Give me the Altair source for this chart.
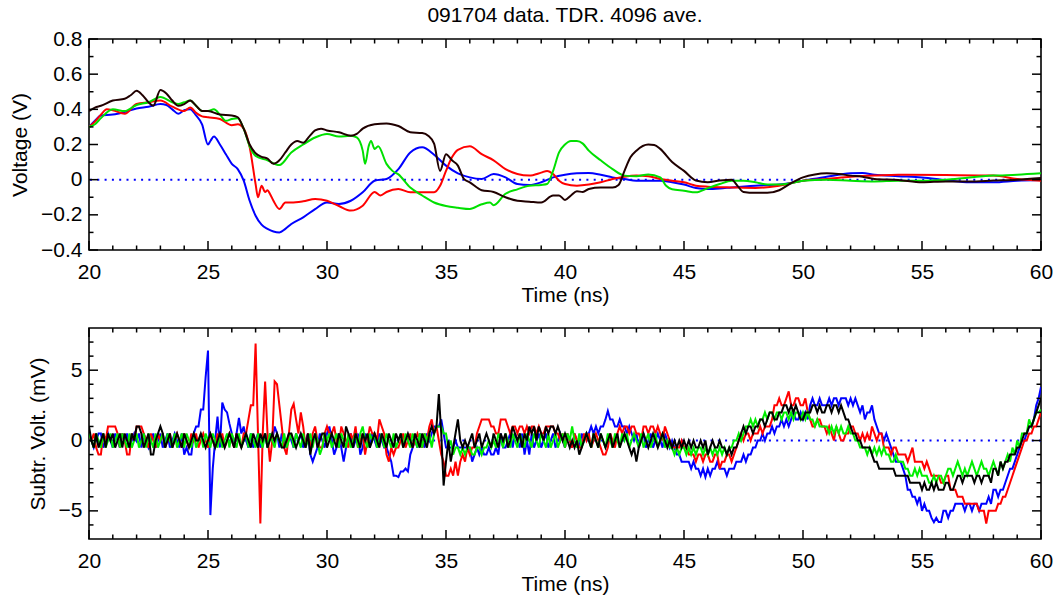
import altair as alt
import pandas as pd

FONT = "Liberation Sans"
FS = 21
W, H = 952, 211
TITLE = "091704 data. TDR. 4096 ave."

# ---------------- top panel: Voltage (V) ----------------
top_blue_t = [20, 20.25, 20.5, 21, 21.5, 22, 22.5, 23, 23.25, 23.5, 23.75, 24, 24.25, 24.5, 24.75, 25, 25.1, 25.25, 25.5, 25.75,
              26, 26.25, 26.5, 26.75, 27, 27.25, 27.5, 27.75, 28, 28.25, 28.5, 29, 29.5, 30, 30.5, 31, 31.5, 32, 32.5, 33,
              33.5, 34, 34.5, 35, 35.5, 36, 36.5, 37, 37.5, 38, 38.5, 39, 39.5, 40, 40.5, 41, 41.5, 42, 42.5, 43,
              44, 44.5, 45, 45.5, 46, 46.5, 47, 48, 49, 50, 51, 52, 52.5, 53, 54, 55, 56, 57, 58, 59, 60]
top_blue_v = [0.30, 0.335, 0.365, 0.37, 0.385, 0.405, 0.415, 0.43, 0.425, 0.40, 0.375, 0.395, 0.40, 0.365, 0.315, 0.20, 0.22, 0.245, 0.20, 0.145,
              0.09, 0.06, -0.006, -0.12, -0.205, -0.256, -0.28, -0.295, -0.30, -0.28, -0.252, -0.214, -0.167, -0.13, -0.138, -0.12, -0.072, -0.006, 0.004, 0.06,
              0.155, 0.184, 0.142, 0.08, 0.036, 0.013, 0.004, 0.032, 0.013, -0.025, -0.03, -0.015, 0.013, 0.028, 0.036, 0.038, 0.028, 0.013, 0.004, -0.006,
              -0.006, -0.015, -0.028, -0.047, -0.053, -0.05, -0.044, -0.034, -0.028, -0.006, 0.017, 0.036, 0.038, 0.028, 0.02, 0.013, -0.002, -0.015, -0.015, -0.006, -0.002]

top_red_t = [20, 20.25, 20.5, 20.75, 21, 21.5, 22, 22.5, 23, 23.5, 24, 24.25, 24.5, 24.75, 25, 25.5, 26, 26.25, 26.5, 26.75,
             27, 27.1, 27.25, 27.4, 27.5, 27.6, 27.75, 28, 28.25, 28.5, 29, 29.5, 30, 30.5, 31, 31.5, 32, 32.25, 32.5, 33,
             33.5, 34, 34.5, 34.75, 35, 35.25, 35.5, 36, 36.5, 37, 37.5, 38, 38.5, 39, 39.25, 39.5, 39.75, 40, 40.5, 41,
             41.5, 42, 42.5, 43, 43.5, 44, 44.5, 45, 45.5, 46, 47, 48, 49, 50, 51, 52, 53, 54, 56, 58, 59, 60]
top_red_v = [0.30, 0.33, 0.37, 0.40, 0.395, 0.375, 0.43, 0.44, 0.45, 0.415, 0.39, 0.41, 0.38, 0.36, 0.355, 0.345, 0.31, 0.315, 0.29, 0.185,
             -0.025, -0.10, -0.035, -0.07, -0.06, -0.08, -0.12, -0.167, -0.13, -0.13, -0.123, -0.11, -0.12, -0.15, -0.176, -0.148, -0.07, -0.09, -0.07, -0.053,
             -0.072, -0.072, -0.072, -0.035, 0.05, 0.127, 0.17, 0.19, 0.145, 0.11, 0.06, 0.032, 0.023, 0.04, 0.05, 0.032, -0.006, -0.025, -0.034, -0.028,
             -0.015, 0.004, 0.017, 0.023, 0.02, 0.004, -0.006, -0.015, -0.034, -0.04, -0.044, -0.047, -0.034, -0.006, 0.004, 0.017, 0.023, 0.028, 0.026, 0.023, 0.004, -0.006]

top_green_t = [20, 20.25, 20.5, 21, 21.5, 22, 22.5, 23, 23.5, 23.75, 24, 24.25, 24.5, 24.75, 25, 25.25, 25.5, 25.75, 26, 26.25,
               26.5, 26.75, 27, 27.5, 28, 28.5, 29, 29.5, 30, 30.5, 31, 31.25, 31.5, 31.6, 31.75, 31.85, 32, 32.15, 32.5, 32.75,
               33, 33.5, 34, 34.5, 35, 35.5, 36, 36.5, 36.85, 37, 37.5, 38, 38.5, 39, 39.25, 39.5, 39.75, 40, 40.25, 40.5,
               40.75, 41, 41.5, 42, 42.5, 43, 43.5, 44, 44.25, 44.5, 45, 45.5, 46, 46.5, 47, 47.5, 48, 48.5, 49, 49.5,
               50, 51, 52, 53, 54, 55, 56, 57, 58, 59, 60]
top_green_v = [0.30, 0.315, 0.35, 0.40, 0.39, 0.425, 0.44, 0.47, 0.44, 0.43, 0.44, 0.45, 0.42, 0.39, 0.39, 0.40, 0.37, 0.335, 0.345, 0.35,
               0.29, 0.19, 0.135, 0.11, 0.083, 0.155, 0.20, 0.24, 0.26, 0.245, 0.25, 0.24, 0.165, 0.09, 0.19, 0.22, 0.175, 0.19, 0.09, 0.05,
               0.03, -0.045, -0.09, -0.13, -0.15, -0.16, -0.167, -0.14, -0.13, -0.145, -0.08, -0.055, -0.035, -0.03, -0.025, 0.05, 0.155, 0.20, 0.22, 0.22,
               0.205, 0.165, 0.11, 0.06, 0.023, 0.02, 0.03, 0.013, -0.035, -0.055, -0.063, -0.072, -0.048, -0.025, -0.006, -0.006, -0.015, -0.028, -0.028, -0.02,
               -0.006, 0.0, -0.006, -0.01, -0.006, -0.006, 0.0, 0.013, 0.023, 0.028, 0.036]

top_black_t = [20, 20.25, 20.5, 21, 21.5, 21.75, 22, 22.25, 22.5, 22.7, 23, 23.25, 23.5, 23.75, 24, 24.25, 24.5, 24.75, 25, 25.5,
               26, 26.25, 26.5, 26.75, 27, 27.25, 27.5, 27.75, 28, 28.25, 28.5, 28.75, 29, 29.25, 29.5, 29.75, 30, 30.5, 31, 31.25,
               31.5, 32, 32.5, 33, 33.5, 34, 34.25, 34.5, 34.75, 35, 35.25, 35.5, 35.75, 36, 36.5, 37, 37.5, 38, 38.5, 39,
               39.5, 39.75, 40, 40.25, 40.5, 40.75, 41, 41.5, 42, 42.25, 42.5, 42.75, 43, 43.5, 43.75, 44, 44.5, 45, 45.5, 46,
               46.5, 47, 47.25, 47.5, 48, 48.5, 49, 49.5, 50, 50.5, 51, 51.5, 52, 52.5, 53, 54, 55, 56, 57, 58, 59, 60]
top_black_v = [0.39, 0.41, 0.42, 0.45, 0.46, 0.48, 0.505, 0.48, 0.44, 0.42, 0.51, 0.49, 0.45, 0.42, 0.43, 0.45, 0.42, 0.39, 0.39, 0.37,
               0.365, 0.355, 0.29, 0.20, 0.15, 0.13, 0.12, 0.09, 0.11, 0.155, 0.20, 0.22, 0.21, 0.245, 0.28, 0.29, 0.28, 0.27, 0.25, 0.26,
               0.29, 0.315, 0.32, 0.305, 0.27, 0.265, 0.25, 0.205, 0.05, 0.145, 0.11, 0.08, 0.005, -0.015, -0.06, -0.07, -0.10, -0.12, -0.125, -0.13,
               -0.09, -0.09, -0.115, -0.09, -0.066, -0.07, -0.053, -0.045, -0.045, -0.03, 0.05, 0.127, 0.165, 0.20, 0.197, 0.175, 0.10, 0.05, -0.005, -0.015,
               -0.005, 0.0, -0.035, -0.07, -0.075, -0.075, -0.06, -0.02, 0.013, 0.03, 0.036, 0.032, 0.023, 0.017, 0.004, -0.002, -0.015, -0.01, -0.01, -0.005, 0.0, 0.01]

# ---------------- bottom panel: Subtr. Volt. (mV), sampled every 0.1 ns from 20 to 60 ----------------
bot_t = [round(20 + 0.1 * i, 1) for i in range(401)]

bot_blue = [
    0.5, 0, -0.5, 0, 0.5, 0.5, -0.5, 0, 0.5, 0,
    -0.5, 0.5, 0, -0.5, 0.5, 0, 0.5, -0.5, 0, 0.5,
    0, 0.5, -0.5, 0.5, 0, -0.5, 0, 0.5, -0.5, 0,
    0.5, -0.5, 0, 0.5, -0.5, 0, 0.5, 0, -0.5, 0.5,
    -1, -0.5, -1, -1, 0.5, 1, 1, 2.2, 2.2, 4.5,
    6.4, -5.3, -2, 0, 1.7, -0.5, 2.7, 2.2, 2, 1.2,
    0.5, -0.5, 0.5, 1.6, 0.5, 1, 0, -0.5, 0.5, -0.5,
    0, 0.5, -0.5, 0, 0.5, -0.5, 0.5, 0, 1, 0.5,
    -0.5, 0.5, 0, -0.5, 0.5, 0, -0.5, 0.5, 0, 0.5,
    -0.5, 0, 0.5, -1, -1.5, -1, -0.5, 0.5, 0, -0.5,
    0.5, 1, 0, -1, -0.5, 0.5, -0.5, -1.5, -0.5, 0,
    0.5, -0.5, 0, 0.5, -1, -0.5, 0.5, 0, -0.5, 0.5,
    0, -0.5, 0.5, 0, -0.5, -0.5, -1, -1.5, -2.5, -2.5,
    -2.6, -2.2, -2.2, -2, -2.2, -1, -0.5, 0, -0.5, 0.5,
    0, -0.5, 0.5, 0, 0.5, 1, 1, 1, 1.5, 0.5,
    -0.5, -0.5, -0.5, -0.5, 0, -0.5, -0.5, -0.5, -0.5, -0.5,
    -0.5, -1.5, -1, -0.5, -1, -0.5, -1, -1, -0.5, -1,
    -1, -0.5, -1, 0.5, -0.5, -0.5, 0, 0.5, -0.5, 0.5,
    0, -0.5, 0.5, -1, 0, -1, 0.5, -0.5, 0, 0.5,
    -0.5, 0, 0.5, -0.5, 0, 0.5, -0.5, 0, 0.5, 0,
    -0.5, 0.5, 0, -0.5, 0.5, 0, -0.5, 0.5, 0, 0.5,
    0.5, 1, 0.5, 1, 0.5, 1, 1, 1.5, 2.1, 1.5,
    1.5, 1, 1, 1.5, 1, 1, 0.5, 1, 0.5, 0,
    0.5, -0.5, 0, 0.5, -0.5, 0, 0.5, -0.5, 0, 0.5,
    0, -0.5, 0.5, 0, -0.5, 0, -0.5, -1, -1, -1.5,
    -1.5, -1.5, -1.5, -2, -1.5, -2, -2, -2.5, -2, -2.6,
    -2, -2.5, -2, -2, -1.5, -2, -2, -2, -2.5, -2,
    -2, -2, -1.5, -1.5, -1.5, -1, -1.5, -1, -1, -0.5,
    -0.5, 0, 0, 0.5, 0, 0.5, 0.5, 1, 0.5, 1,
    1, 1.5, 1, 1.5, 1, 1.5, 2, 1.5, 1.5, 2,
    1.5, 2, 1.5, 2.5, 3, 2.5, 2.5, 3, 2.5, 2.5,
    2.5, 3, 2.5, 3, 3, 2.5, 3, 3, 3, 2.5,
    3, 2.5, 3, 2.5, 2, 2.5, 1.5, 2, 2, 2.5,
    1.5, 1, 0.5, 0.5, 0, 0.5, 0, -0.5, -1, -1.5,
    -1.5, -1.5, -2, -2.5, -3.5, -3.5, -4, -4, -4.5, -4,
    -5, -4.5, -5, -5, -5.5, -5.8, -5.5, -5.8, -5.8, -5,
    -5, -5.5, -5, -5, -4.5, -4.5, -4.5, -4.5, -5, -4.5,
    -4.5, -5, -4.5, -4.5, -5, -4.5, -4.5, -4.5, -4, -4.5,
    -3.5, -3.5, -4, -3.5, -3.5, -3, -2.5, -2, -2, -1.5,
    -1, -0.5, 0, 0, 0.5, 1, 1, 1.5, 2.5, 3,
    3.8]

bot_red = [
    0.5, 0, 0.5, -0.5, -1, -1, 0.5, 0, 1, 1,
    1, 1, 0.5, -0.5, 0.5, 0, -1, -1, 0.5, 0,
    1, 1, 1, 0.5, 0, -0.5, 0.5, 0, -0.5, 0.5,
    0, 0.5, -0.5, 0, 0.5, -0.5, 0, 0.5, 0, -0.5,
    0.5, 0, -0.5, 0.5, 0, 0.5, -0.5, 0, 0.5, 0,
    -0.5, 0.5, 0, -0.5, 0.5, 0, 0.5, -0.5, 0, 0.5,
    0, -0.5, 0.5, 0, -0.5, 0.5, 0.5, 1.5, 2.5, 2.5,
    6.9, 0.5, -5.9, 0.5, 4.2, 0.5, -1.5, 0, 4.2, 4,
    2.5, 1, -0.5, -1, 0.5, 2.2, 2.6, 1.5, 0.5, 2,
    1, -0.5, 0.5, -0.5, 0.5, 1, 0, -0.5, -0.5, 0.5,
    1, 0.5, 0.5, 1, 0, -0.5, 1, 0.5, 0, -0.5,
    0.5, 0, 1, -0.5, 0, 0.5, -1, 0, 1, 0.5,
    0.5, 0, 1.5, 1, 0.5, -1, -1.5, -0.5, -1, -0.5,
    -0.5, 0, 0.5, -0.5, 0, 0.5, -0.5, 0, 0.5, 0,
    -0.5, 0.5, 0, 1, 1.5, 0.5, 1, 0, -1, -1.5,
    -2.5, -2.5, -2, -2.5, -1.5, -2.5, -1.5, -1, -1.5, -0.5,
    -1, -0.5, -0.5, 0.5, 1, 1.5, 1.5, 1.5, 1.5, 1,
    1, 0.5, 0.5, 1.5, 1.5, 1.5, 1, 0.5, 1, 1,
    0.5, 1, 1, 0.5, 1, 0.5, 1, 1, 0.5, 1,
    0.5, 0.5, 1, 1, 1, 1, 0.5, 0.5, 0, 0.5,
    -0.5, 0.5, 0, -0.5, 0.5, 0, -0.5, -0.5, 0.5, 0,
    0.5, -0.5, 0, 0.5, 0, -0.5, -1, -1, -0.5, 0.5,
    0, -0.5, 0.5, 1, 0.5, 1, 1, 0.5, 1, 1,
    0.5, 0.5, 0, 1, 1, 0.5, 1, 1, 0.5, 1,
    0.5, 0, 1, 0.5, 0, -0.5, -0.5, -0.5, -0.5, 0,
    -0.5, -0.5, -1, -1, -1, -1.5, -1, -1, -1.5, -1,
    -1, -1.5, -1.5, -1, -1, -2, -1.5, -1.5, -1, -1,
    -1.5, -1, -0.5, 0, 0.5, 0, 0.5, 0.5, 0, 0.5,
    0.5, 0.5, 1, 0.5, 1, 1, 1, 1.5, 2.5, 2.5,
    3, 2.5, 2.5, 3, 3.5, 2.5, 2.5, 3, 3, 2.5,
    2.5, 3, 2, 1.5, 1, 1, 1.5, 1.5, 1, 1,
    0.5, 1, 0.5, 0, 1, 0.5, 0, 0, 0.5, 0.5,
    1, 1, 0.5, 0.5, 0, 0.5, 0, 0.5, 0, 1,
    0.5, 0, 0.5, 0.5, -0.5, -0.5, -0.5, -1, -0.5, -0.5,
    -1, -1, -1, -1, -1.5, -1, -0.5, -1.5, -1.5, -1.5,
    -1.5, -2, -1.5, -2, -2.5, -2.5, -2.5, -2.5, -3, -3,
    -2.5, -2.5, -3.5, -3.5, -3.5, -4, -4, -4, -4.5, -4.5,
    -4.5, -4.5, -4.5, -4.5, -5, -5, -5, -5.9, -5, -5,
    -5, -5, -4.5, -4.5, -4, -4, -3.5, -3, -2.5, -2,
    -1.5, -1, -0.5, 0, 0, 0.5, 0.5, 1, 1, 1.5,
    2]

bot_green = [
    0.5, 0, -0.5, 0.5, 0, -0.5, 0.5, -0.5, 0, 0.5,
    -0.5, 0, 0.5, -0.5, 0.5, 0, -0.5, 0.5, -0.5, 0,
    0.5, -0.5, 0, 0.5, -0.5, 0.5, 0, -0.5, 0.5, -0.5,
    0, 0.5, -0.5, 0.5, 0, -0.5, 0.5, -0.5, 0, 0.5,
    -0.5, 0.5, 0, -0.5, 0.5, -0.5, 0, 0.5, -0.5, 0.5,
    0, -0.5, 0.5, 0, -0.5, 0.5, -0.5, 0, 0.5, -0.5,
    0.5, 0, -0.5, 0.5, -0.5, 0, 0.5, -0.5, 0.5, 0,
    -0.5, 0.5, 0, -0.5, 0.5, -0.5, 0.5, 0, -0.5, 0.5,
    0, -0.5, 0.5, -0.5, 0, 0.5, -0.5, 0.5, 0, -0.5,
    0.5, -0.5, 0, 0.5, -0.5, 0.5, 0, -1, -0.5, 0.5,
    0, 0.5, -0.5, 0, 0.5, -0.5, 0.5, 0, -0.5, 0.5,
    -0.5, 0, 0.5, -0.5, 0.5, 1, 0, -0.5, 0.5, 0,
    0.5, -0.5, 0, 0.5, -0.5, 0.5, 0, -0.5, 0.5, -0.5,
    0, 0.5, -0.5, 0.5, 0, -0.5, 0.5, 0, -0.5, 0.5,
    -0.5, 0.5, 0, 0.5, -0.5, 0.5, 1, 1, 1, 0.5,
    0.5, -0.5, 0, -1, -0.5, -0.5, -1, -0.5, -1, -0.5,
    -0.5, -1, -1, -0.5, -0.5, -1, -0.5, -0.5, 0, -0.5,
    0, -0.5, 0.5, 0, -0.5, 0.5, 0, -0.5, 0.5, 0,
    -0.5, 0.5, 0, -0.5, 0.5, 0, -0.5, 0.5, 0, -0.5,
    0.5, 0, -0.5, 0.5, -0.5, 0, 0.5, -0.5, 0, 0.5,
    -0.5, 0.5, 0, 1, 0, -0.5, 0.5, -0.5, 0, 0.5,
    0, -0.5, 0.5, 0, -0.5, 0.5, 0, -0.5, 0.5, 0,
    -0.5, 0.5, 0, -0.5, 0.5, 0, 0.5, -0.5, 0, 0.5,
    0, -0.5, 0.5, -0.5, 0, 0.5, -0.5, 0, 0.5, -0.5,
    0, 0.5, -0.5, 0, -0.5, -0.5, -1, -0.5, -1, -0.5,
    -0.5, -1, -0.5, -1, -0.5, -1, -0.5, -0.5, -1, -0.5,
    -1, -0.5, -1, -0.5, -1, -0.5, -1, -0.5, -1, -0.5,
    -0.5, 0, 0, 0.5, 0, 0.5, 1, 1, 1.5, 1,
    1.5, 1, 1.5, 1.5, 2, 1.5, 2, 2, 1.5, 2,
    2, 1.5, 2, 2, 1.5, 2, 1.5, 2, 2, 1.5,
    2, 1.5, 2, 1.5, 1.5, 1, 1.5, 1, 1, 1,
    1, 0.5, 1, 0.5, 1, 0.5, 1, 0.5, 0.5, 1,
    0.5, 0.5, 0, 0, -0.5, -0.5, -0.5, -1, -0.5, -1,
    -0.5, -1, -0.5, -1, -0.5, -1, -1, -1.5, -1.5, -1,
    -1.5, -1.5, -1.5, -2, -2, -2.5, -2.5, -2, -2.5, -2,
    -2.5, -2.5, -2.5, -3, -3, -2.5, -3, -2.5, -2.5, -3,
    -2.5, -2, -2, -2.5, -2, -1.5, -2, -2.5, -2, -2.5,
    -2, -1.5, -2, -2.5, -2, -1.5, -2, -2, -2.5, -2,
    -1.5, -2, -2.5, -1.5, -2, -1.5, -1, -1.5, -0.5, -1,
    0, -0.5, 0.5, 0.5, 0.5, 1.5, 1, 1.5, 2, 2,
    2.2]

bot_black = [
    1, 0, -0.5, 0.5, -0.5, 0, 0.5, -0.5, 0.5, 0,
    0.5, -0.5, 0, 0.5, -0.5, 0.5, 0, -0.5, 0.5, 0,
    1, 1, 0.5, -0.5, 0, 0.5, -1, -1, 0, 0.5,
    1, 0.5, -0.5, 0, 0.5, -0.5, 0, 0.5, 0, -0.5,
    0.5, 0, -0.5, 0, 0.5, 0, 0, 0.5, 0, -0.5,
    0, 0.5, 0, -0.5, 0, 0.5, 0, -0.5, 0, 0.5,
    0, -0.5, 0.5, 0, -0.5, 0, 0.5, 0, -0.5, 0.5,
    0, -0.5, 0.5, 0, 0.5, -0.5, 0, 0.5, 0, 0.5,
    0, -0.5, -0.5, 0, 0.5, 0.5, 0, -0.5, 0, 0.5,
    0, -0.5, 0.5, -1, 0, 0.5, -0.5, 0, 0.5, 0.5,
    -0.5, 0, 0.5, 0, -0.5, 0.5, 0, -0.5, 1, 0.5,
    0, -0.5, 0.5, 0, -0.5, 0.5, 0, 0.5, -0.5, 0,
    0.5, 0, -0.5, 0.5, 0, -0.5, 0.5, 0, -0.5, 0.5,
    0, 0.5, -0.5, 0, 0.5, 0, -0.5, 0.5, 0, -0.5,
    0.5, 0, -0.5, 0.5, 1, 0.5, 1, 3.3, 0.5, -3.2,
    -1.5, 0, -1.5, -0.5, 0.5, 1.5, 0, -0.5, 0, -0.5,
    0, 0.5, -0.5, 0, 0.5, -0.5, 0, 0.5, 0, -0.5,
    0.5, 0, -0.5, 0.5, 0, 0.5, -0.5, 0, 1, 0.5,
    0, 0.5, -0.5, 0.5, 0, 1, 0.5, 1, 0, 1,
    0.5, 0, 1, 0.5, 1, 1, 0.5, 1, 0.5, 0,
    0.5, 0, -0.5, 0, -0.5, 0, -1, -0.5, 0, 0.5,
    0, -0.5, 0.5, 0, -0.5, 0.5, 0, -0.5, 0, 0.5,
    -0.5, 0, 0.5, -0.5, 0, 0.5, 0, -0.5, -1, -0.5,
    -1.5, -0.5, 0, 0.5, 0, -0.5, 0, 0.5, 0, -0.5,
    0, 0.5, 0, -0.5, 0, -0.5, 0, -0.5, 0, -0.5,
    0, -0.5, 0, -0.5, 0, -0.5, -0.5, 0, -0.5, 0,
    -1, -0.5, 0, -0.5, -0.5, 0, -0.5, -0.5, -1, -0.5,
    -1, -0.5, -0.5, 0, 0.5, 1, 0.5, 1, 1, 0.5,
    1, 1, 1.5, 1.5, 1, 1.5, 2, 2, 1.5, 1.5,
    2, 2, 2.5, 2.5, 2, 2.5, 2, 2.5, 2, 1.5,
    1.5, 2, 2, 2, 2.5, 2.5, 2, 2.5, 2, 2,
    2.5, 2.5, 2, 2.5, 2.5, 2, 2.5, 2, 1.5, 1.5,
    1, 0.5, 0.5, 0, 0, -0.5, -0.5, -0.5, -0.5, -1,
    -1.5, -1.5, -2, -2, -2, -2, -2, -2, -2, -2.5,
    -2.5, -2.5, -2.5, -2.5, -2.5, -3, -3, -3, -3, -3,
    -3.5, -3, -3.5, -3.5, -3, -3.5, -3, -3.5, -3.5, -3.5,
    -3, -3, -3.5, -3.5, -3, -2.5, -2.5, -3, -2.5, -2.5,
    -2.5, -2.5, -3, -2.5, -2.5, -3, -2.5, -2.5, -2.5, -3,
    -2, -2, -2.5, -1.5, -2, -1.5, -1.5, -1, -1, -1,
    -0.5, -0.5, 0, 0.5, 0.5, 1, 1, 1.5, 2, 2.5,
    3]

# ---------------- axes / ticks ----------------
x_major = [20, 25, 30, 35, 40, 45, 50, 55, 60]
x_minor = [21, 22, 23, 24, 26, 27, 28, 29, 31, 32, 33, 34, 36, 37, 38, 39, 41, 42, 43, 44,
           46, 47, 48, 49, 51, 52, 53, 54, 56, 57, 58, 59]
top_y_major = [-0.4, -0.2, 0.0, 0.2, 0.4, 0.6, 0.8]
top_y_minor = [-0.3, -0.1, 0.1, 0.3, 0.5, 0.7]
bot_y_major = [-5, 0, 5]
bot_y_minor = [-6, -4, -3, -2, -1, 1, 2, 3, 4, 6, 7]

MAJ, MIN = 9, 4.5
TICKW = 1.5

xscale = alt.Scale(domain=[20, 60], nice=False, zero=False)
xaxis = alt.Axis(values=x_major, format="d", title="Time (ns)", labelFlush=False,
                 labelPadding=11, titleX=W / 2, titleY=34, titleAlign="center",
                 titleBaseline="top")


def make_panel(series, y_domain, y_major, y_minor, y_title, y_fmt, title_x, interp, title=None):
    yscale = alt.Scale(domain=y_domain, nice=False, zero=False)
    yaxis = alt.Axis(values=y_major, format=y_fmt, title=y_title, labelPadding=7,
                     titleX=title_x, titleY=H / 2, titleAngle=270, titleAlign="center",
                     titleBaseline="middle")

    def X(f):
        return alt.X(f + ":Q", scale=xscale, axis=xaxis)

    def Y(f):
        return alt.Y(f + ":Q", scale=yscale, axis=yaxis)

    layers = []
    layers.append(alt.Chart(pd.DataFrame({"v": [0.0]})).mark_rule(
        color="#0000ff", strokeDash=[2, 5.3], strokeWidth=2).encode(y=Y("v")))
    for ts, vs, col in series:
        df = pd.DataFrame({"t": ts, "v": vs})
        layers.append(alt.Chart(df).mark_line(color=col, strokeWidth=2, interpolate=interp,
                                              clip=True).encode(x=X("t"), y=Y("v")))
    for vals, ln in ((x_major, MAJ), (x_minor, MIN)):
        d = pd.DataFrame({"t": vals})
        layers.append(alt.Chart(d).mark_rule(color="black", strokeWidth=TICKW).encode(
            x=X("t"), y=alt.value(H), y2=alt.value(H - ln)))
        layers.append(alt.Chart(d).mark_rule(color="black", strokeWidth=TICKW).encode(
            x=X("t"), y=alt.value(0), y2=alt.value(ln)))
    for vals, ln in ((y_major, MAJ), (y_minor, MIN)):
        d = pd.DataFrame({"v": vals})
        layers.append(alt.Chart(d).mark_rule(color="black", strokeWidth=TICKW).encode(
            y=Y("v"), x=alt.value(0), x2=alt.value(ln)))
        layers.append(alt.Chart(d).mark_rule(color="black", strokeWidth=TICKW).encode(
            y=Y("v"), x=alt.value(W), x2=alt.value(W - ln)))
    props = dict(width=W, height=H)
    if title is not None:
        props["title"] = title
    return alt.layer(*layers).properties(**props)


top = make_panel(
    [(top_blue_t, top_blue_v, "#0000ff"), (top_red_t, top_red_v, "#ff0000"),
     (top_green_t, top_green_v, "#00e000"), (top_black_t, top_black_v, "#200000")],
    [-0.4, 0.8], top_y_major, top_y_minor, "Voltage (V)", ".1~f", -69, "monotone",
    title=alt.TitleParams(TITLE, anchor="middle", frame="group", baseline="alphabetic",
                          offset=-15, fontSize=FS, font=FONT, fontWeight="normal", color="black"))

bottom = make_panel(
    [(bot_t, bot_blue, "#0000ff"), (bot_t, bot_red, "#ff0000"),
     (bot_t, bot_green, "#00ee00"), (bot_t, bot_black, "#000000")],
    [-7, 8], bot_y_major, bot_y_minor, "Subtr. Volt. (mV)", "d", -51, "linear")

chart = alt.vconcat(top, bottom, spacing=78, bounds="flush").properties(
    padding={"left": 8, "top": 4, "right": 4, "bottom": 2}
).configure_view(stroke="black", strokeWidth=1.6).configure_axis(
    domain=False, ticks=False, tickSize=0, grid=False, labelFont=FONT, titleFont=FONT,
    labelFontSize=FS, titleFontSize=FS, labelColor="black", titleColor="black",
    titleFontWeight="normal", labelOverlap=False
).configure_title(font=FONT, fontSize=FS, fontWeight="normal", color="black")

chart.save("out.html", embed_options={"renderer": "svg", "actions": False})
